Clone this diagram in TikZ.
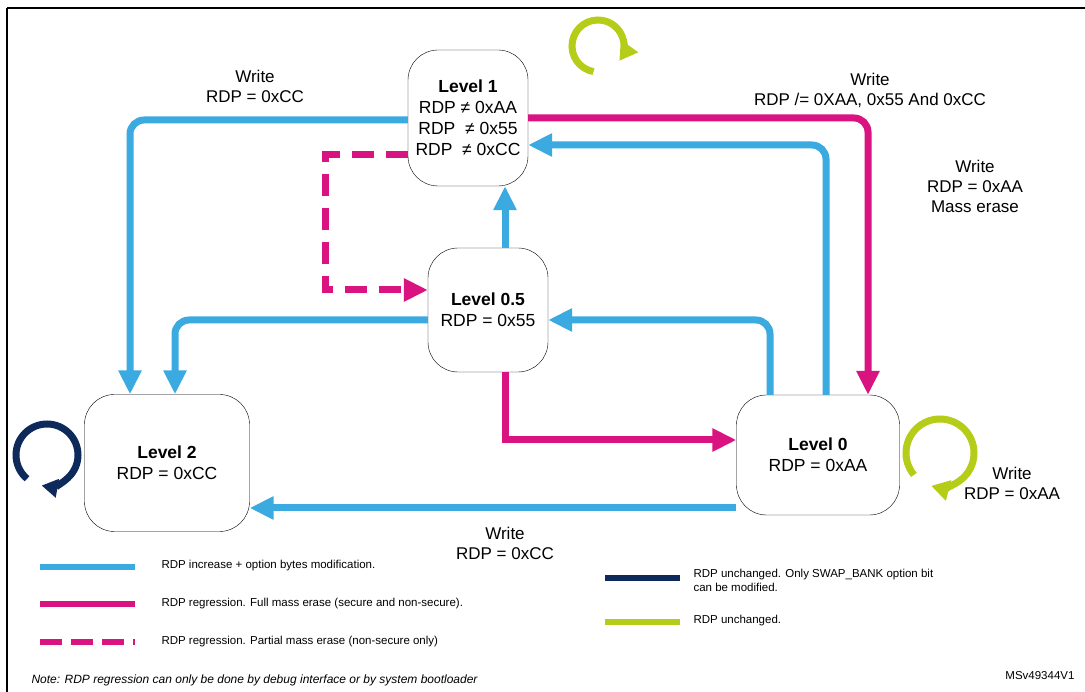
\documentclass[tikz,border=0pt]{standalone}
\usepackage{fontspec}
\setmainfont{Liberation Sans}
\usetikzlibrary{arrows.meta}
\definecolor{cblue}{HTML}{3AAAE0}
\definecolor{cmag}{HTML}{D9137F}
\definecolor{cgrn}{HTML}{B5CC18}
\definecolor{cnavy}{HTML}{0E2A5A}
\begin{document}
\begin{tikzpicture}[x=1pt,y=-1pt,
  st/.style={draw,rounded corners=30pt,align=center,font=\fontsize{17.5}{21}\selectfont},
  ar/.style={line width=7pt,rounded corners=14pt,-{Triangle[length=24pt,width=22pt]}},
  lb/.style={align=center,font=\fontsize{17}{20}\selectfont},
  lg/.style={font=\fontsize{11.5}{14}\selectfont,anchor=west,align=left}]
\useasboundingbox (0,0) rectangle (1085,692);
\draw[line width=1.5pt] (7,8) -- (1090,8);
\draw[line width=1.5pt] (7,8) -- (7,700);
\node[st,minimum width=120pt,minimum height=136pt] (l1) at (468,118) {\textbf{Level 1}\\RDP ≠ 0xAA\\RDP \ ≠ 0x55\\RDP \ ≠ 0xCC};
\node[st,minimum width=120pt,minimum height=124pt] (l05) at (488,310) {\textbf{Level 0.5}\\RDP = 0x55};
\node[st,minimum width=165pt,minimum height=137pt] (l2) at (167,463) {\textbf{Level 2}\\RDP = 0xCC};
\node[st,minimum width=163pt,minimum height=120pt] (l0) at (818,455) {\textbf{Level 0}\\RDP = 0xAA};
% blue
\draw[ar,cblue] (l1.west|-0,120) -| (l2.north-|130,0);
\draw[ar,cblue] (l05.west|-0,320) -| (l2.north-|175,0);
\draw[ar,cblue,rounded corners=0pt] (l0.west|-0,508) -- (l2.east|-0,508);
\draw[ar,cblue] (l0.north-|770,0) |- (l05.east|-0,320);
\draw[ar,cblue] (l0.north-|826,0) |- (l1.east|-0,145);
\draw[ar,cblue,rounded corners=0pt] (l05.north-|505,0) -- (l1.south-|505,0);
% magenta
\draw[ar,cmag] (l1.east|-0,118) -| (l0.north-|868,0);
\draw[ar,cmag,rounded corners=0pt] (l05.south-|505,0) |- (l0.west|-0,440);
\draw[ar,cmag,rounded corners=0pt,dash pattern=on 22pt off 12pt] (l1.west|-0,155) -| (325,290) -- (l05.west|-0,290);
% loops
\draw[line width=7pt,cgrn,-{Triangle[length=18pt,width=20pt]}] (598,46) ++(100:26) arc[start angle=100,end angle=395,radius=26] ;
\draw[line width=7pt,cgrn,-{Triangle[length=18pt,width=20pt]}] (940,453) ++(140:34) arc[start angle=140,end angle=465,radius=34];
\draw[line width=7pt,cnavy,-{Triangle[length=16pt,width=18pt]}] (47,455) ++(130:31) arc[start angle=130,end angle=460,radius=31];
% labels
\node[lb] (t1) at (255,86) {Write\\RDP = 0xCC};
\node[lb] (t2) at (870,90) {Write\\RDP /= 0XAA, 0x55 And 0xCC};
\node[lb] (t3) at (975,186) {Write\\RDP = 0xAA\\Mass erase};
\node[lb] (t4) at (505,543) {Write\\RDP = 0xCC};
\node[lb] (t5) at (1012,483) {Write\\RDP = 0xAA};
% legend
\coordinate (a1) at (40,567); \coordinate (a2) at (135,567);
\draw[line width=6pt,cblue] (a1) -- (a2);
\node[lg] (g1) at (158,566) {RDP increase + option bytes modification.};
\coordinate (b1) at (40,604); \coordinate (b2) at (135,604);
\draw[line width=6pt,cmag] (b1) -- (b2);
\node[lg] (g2) at (158,604) {RDP regression. Full mass erase (secure and non-secure).};
\coordinate (c1) at (40,642); \coordinate (c2) at (135,642);
\draw[line width=6pt,cmag,dash pattern=on 22pt off 9pt] (c1) -- (c2);
\node[lg] (g3) at (158,642) {RDP regression. Partial mass erase (non-secure only)};
\coordinate (d1) at (605,578); \coordinate (d2) at (680,578);
\draw[line width=6pt,cnavy] (d1) -- (d2);
\node[lg] (g4) at (690,580) {RDP unchanged. Only SWAP\_BANK option bit\\can be modified.};
\coordinate (e1) at (605,622); \coordinate (e2) at (680,622);
\draw[line width=6pt,cgrn] (e1) -- (e2);
\node[lg] (g5) at (690,621) {RDP unchanged.};
\node[lg,font=\fontsize{12}{14}\selectfont\itshape] (n) at (28,680) {Note: RDP regression can only be done by debug interface or by system bootloader};
\node[lg,anchor=east] (ms) at (1078,676) {MSv49344V1};
\end{tikzpicture}
\end{document}
